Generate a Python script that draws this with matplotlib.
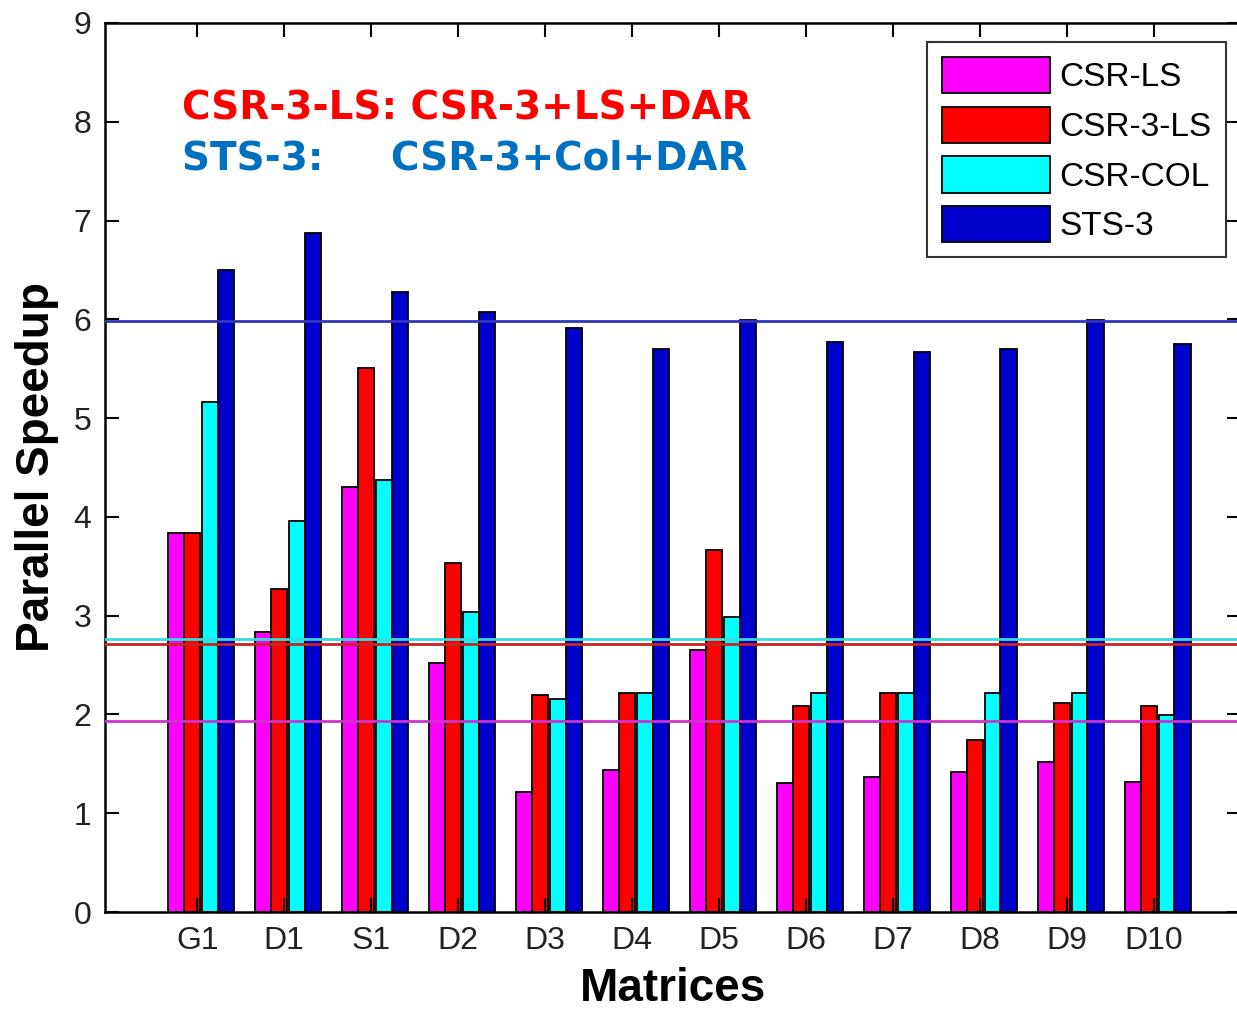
import numpy as np
import matplotlib.pyplot as plt

# Data
matrices = ['G1', 'D1', 'S1', 'D2', 'D3', 'D4', 'D5', 'D6', 'D7', 'D8', 'D9', 'D10']
csr_ls = [3.84, 2.83, 4.30, 2.52, 1.21, 1.44, 2.65, 1.31, 1.37, 1.42, 1.52, 1.32]
csr_3_ls = [3.84, 3.27, 5.51, 3.53, 2.20, 2.22, 3.66, 2.09, 2.22, 1.74, 2.12, 2.09]
csr_col = [5.16, 3.96, 4.37, 3.04, 2.16, 2.22, 2.99, 2.22, 2.22, 2.22, 2.22, 1.99]
sts_3 = [6.50, 6.87, 6.28, 6.07, 5.91, 5.70, 5.99, 5.77, 5.67, 5.70, 5.99, 5.75]

# average lines
avg_csr_ls = 1.93
avg_csr_3_ls = 2.71
avg_csr_col = 2.76
avg_sts_3 = 5.98

series = [
    ('CSR-LS', csr_ls, '#ff00ff', avg_csr_ls),
    ('CSR-3-LS', csr_3_ls, '#ff0000', avg_csr_3_ls),
    ('CSR-COL', csr_col, '#00ffff', avg_csr_col),
    ('STS-3', sts_3, '#0000cc', avg_sts_3),
]
line_colors = ['#cc33cc', '#cc2222', '#33dddd', '#3333bb']

plt.rcParams['font.family'] = ['Liberation Sans', 'DejaVu Sans']

fig = plt.figure(figsize=(12.37, 10.11), dpi=100)
ax = fig.add_axes([105 / 1237, 99 / 1011, 1136 / 1237, 889 / 1011])

x = np.arange(1, len(matrices) + 1)
width = 0.19
offsets = [-0.24, -0.06, 0.15, 0.33]

for (name, vals, color, avg), off in zip(series, offsets):
    ax.bar(x + off, vals, width, color=color, edgecolor='black', linewidth=1.3, label=name)

for (name, vals, color, avg), lc in zip(series, line_colors):
    ax.axhline(avg, color=lc, linewidth=2, zorder=3)

ax.set_xlim(-0.06, 13)
ax.set_ylim(0, 9)
ax.set_xticks(x)
ax.set_xticklabels(matrices)
ax.set_yticks(range(10))
ax.tick_params(direction='in', length=10, width=1.5, top=True, right=True,
               labelsize=23, labelcolor='#222222', pad=10)
for s in ax.spines.values():
    s.set_linewidth(1.8)

ax.set_xlabel('Matrices', fontsize=33, fontweight='bold', labelpad=8)
ax.set_ylabel('Parallel Speedup', fontsize=33, fontweight='bold', labelpad=10)

ax.text(0.83, 8.02, 'CSR-3-LS: CSR-3+LS+DAR', color='#ff0000', fontsize=28,
        fontweight='bold', family='DejaVu Sans', va='baseline')
ax.text(0.83, 7.52, 'STS-3:     CSR-3+Col+DAR', color='#0070c0', fontsize=28,
        fontweight='bold', family='DejaVu Sans', va='baseline')

leg = ax.legend(loc='upper left', bbox_to_anchor=(0.7236, 0.9786), fontsize=24,
                frameon=True, fancybox=False, edgecolor='black', handlelength=3.25,
                handleheight=1.3, labelspacing=0.4, borderpad=0.45, handletextpad=0.27,
                borderaxespad=0)
leg.get_frame().set_linewidth(1.5)

fig.savefig('out.png', dpi=100)
